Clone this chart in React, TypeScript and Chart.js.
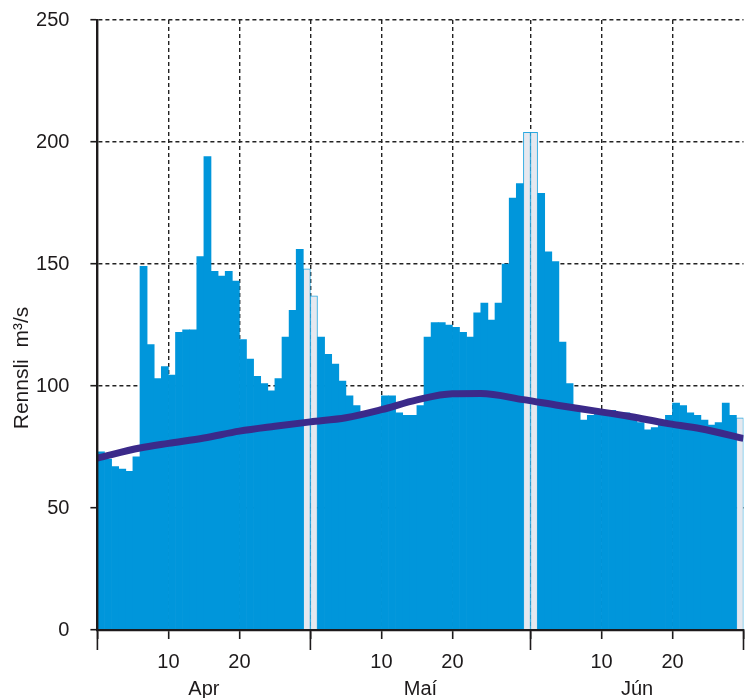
import React, { useEffect, useRef } from "react";
import { Chart, registerables } from "chart.js";
Chart.register(...registerables);

// Daily discharge (m³/s), 1 April – 30 June
const dailyFlow = [
  73, 70, 67, 66, 65, 71, 149, 117, 103, 108,
  104.5, 122, 123, 123, 153, 194, 147, 145, 147, 143,
  119, 111, 104, 101, 98, 103, 120, 131, 156, 148,
  137, 120, 113, 109, 102, 96, 92, 89, 89, 90,
  96, 96, 89, 88, 88, 92, 120, 126, 126, 125,
  124, 122, 120, 130, 134, 127, 134, 150, 177, 183,
  204, 204, 179, 155, 151, 118, 101, 91, 86, 88,
  89, 90, 90, 89, 89, 88, 85, 82, 83, 86,
  88, 93, 92, 89, 88, 86, 84, 85, 93, 88,
  87,
];
// days drawn as light (estimated) bars
const estimatedDays = [29, 30, 60, 61, 90];

// long-term mean curve
const meanDays = [0, 6, 10, 15, 20, 25, 30, 35, 40, 45, 50, 54, 60, 65, 70, 75, 80, 85, 91];
const meanFlow = [70.5, 74.6, 76.5, 78.7, 81.5, 83.5, 85.3, 87, 90.3, 94.3, 96.8, 96.9, 94.4, 92, 89.8, 87.5, 84.8, 82.5, 78.5];

const dayTicks = [0, 10, 20, 30, 40, 50, 61, 71, 81, 91];
const dayTickLabels = ["", "10", "20", "", "10", "20", "", "10", "20", ""];
const monthStarts = [0, 30, 61, 91];
const monthCenters = [15, 45.5, 76];
const monthNames = ["Apr", "Maí", "Jún"];
const yTitle = "Rennsli  m³/s";

const FONT = '"Liberation Sans", Arial, sans-serif';
const INK = "#1d1a1b";

const extrasPlugin = {
  id: "extras",
  afterDraw(chart: any) {
    const ctx = chart.ctx;
    const xs = chart.scales.x;
    const area = chart.chartArea;
    ctx.save();
    ctx.strokeStyle = INK;
    ctx.lineWidth = 1.6;
    monthStarts.forEach((d) => {
      const px = xs.getPixelForValue(d);
      ctx.beginPath();
      ctx.moveTo(px, area.bottom);
      ctx.lineTo(px, area.bottom + 20);
      ctx.stroke();
    });
    ctx.font = `21px ${FONT}`;
    ctx.fillStyle = INK;
    ctx.textAlign = "center";
    ctx.textBaseline = "middle";
    ctx.translate(22, 368);
    ctx.rotate(-Math.PI / 2);
    ctx.fillText(yTitle, 0, 0);
    ctx.restore();
  },
};

const noSidePad = (s: any) => {
  s.paddingLeft = 0;
  s.paddingRight = 0;
  s.paddingTop = 0;
  s.paddingBottom = 0;
};

export default function App() {
  const ref = useRef<HTMLCanvasElement | null>(null);

  useEffect(() => {
    if (!ref.current) return;
    const isEst = (i: number) => estimatedDays.includes(i);
    const blue = dailyFlow.map((v, i) => ({ x: i + 0.5, y: isEst(i) ? null : v }));
    const light = dailyFlow.map((v, i) => ({ x: i + 0.5, y: isEst(i) ? v : null }));
    const mean = meanDays.map((d, i) => ({ x: d, y: meanFlow[i] }));

    const chart = new Chart(ref.current, {
      type: "bar",
      data: {
        datasets: [
          {
            type: "line",
            data: mean,
            borderColor: "#3b2a8a",
            borderWidth: 7,
            pointRadius: 0,
            cubicInterpolationMode: "monotone",
            order: 0,
          } as any,
          {
            data: blue,
            backgroundColor: "#0096db",
            borderWidth: 0,
            barPercentage: 1,
            categoryPercentage: 1,
            grouped: false,
            order: 1,
          } as any,
          {
            data: light,
            backgroundColor: "#e5e8ef",
            borderColor: "#2aa8e0",
            borderWidth: 1,
            barPercentage: 1,
            categoryPercentage: 1,
            grouped: false,
            order: 2,
          } as any,
        ],
      },
      options: {
        animation: false,
        responsive: false,
        maintainAspectRatio: false,
        layout: { padding: { left: 0, right: 1.5, top: 20, bottom: 0 } },
        plugins: { legend: { display: false }, tooltip: { enabled: false } },
        scales: {
          x: {
            type: "linear",
            position: "bottom",
            min: 0,
            max: 91,
            offset: false,
            weight: 0,
            afterBuildTicks: (s: any) => {
              s.ticks = dayTicks.map((v) => ({ value: v }));
            },
            afterFit: (s: any) => {
              s.height = 40;
              noSidePad(s);
            },
            ticks: {
              autoSkip: false,
              maxRotation: 0,
              padding: 11,
              color: INK,
              font: { family: FONT, size: 20 },
              callback: (v: any) => {
                const i = dayTicks.indexOf(Number(v));
                return i >= 0 ? dayTickLabels[i] : "";
              },
            },
            grid: {
              offset: false,
              color: (c: any) =>
                c.tick && (c.tick.value === 0 || c.tick.value === 91) ? "rgba(0,0,0,0)" : "#222",
              lineWidth: 1.4,
              tickColor: INK,
              tickWidth: 1.6,
              tickLength: 9,
              tickBorderDash: [],
            },
            border: { display: true, color: INK, width: 2.2, dash: [4, 3], z: 1 },
          },
          x2: {
            type: "linear",
            axis: "x",
            position: "bottom",
            min: 0,
            max: 91,
            offset: false,
            weight: 1,
            afterBuildTicks: (s: any) => {
              s.ticks = monthCenters.map((v) => ({ value: v }));
            },
            afterFit: (s: any) => {
              s.height = 28;
              noSidePad(s);
            },
            ticks: {
              autoSkip: false,
              maxRotation: 0,
              padding: 7,
              color: INK,
              font: { family: FONT, size: 20 },
              callback: (v: any) => {
                const i = monthCenters.indexOf(Number(v));
                return i >= 0 ? monthNames[i] : "";
              },
            },
            grid: { display: false, drawTicks: false, offset: false },
            border: { display: false },
          },
          y: {
            type: "linear",
            min: 0,
            max: 250,
            afterFit: (s: any) => {
              s.width = 97.4;
              noSidePad(s);
            },
            ticks: {
              stepSize: 50,
              padding: 21,
              color: INK,
              font: { family: FONT, size: 20 },
            },
            grid: {
              color: (c: any) => (c.tick && c.tick.value === 0 ? "rgba(0,0,0,0)" : "#222"),
              lineWidth: 1.4,
              tickColor: INK,
              tickWidth: 1.6,
              tickLength: 7,
              tickBorderDash: [],
            },
            border: { display: true, color: INK, width: 2.4, dash: [4, 3], z: 1 },
          },
        },
      } as any,
      plugins: [extrasPlugin],
    });
    return () => chart.destroy();
  }, []);

  return (
    <div style={{ position: "absolute", left: 0, top: 0, width: 745, height: 698 }}>
      <canvas ref={ref} width={745} height={698} style={{ width: 745, height: 698, display: "block" }} />
    </div>
  );
}
